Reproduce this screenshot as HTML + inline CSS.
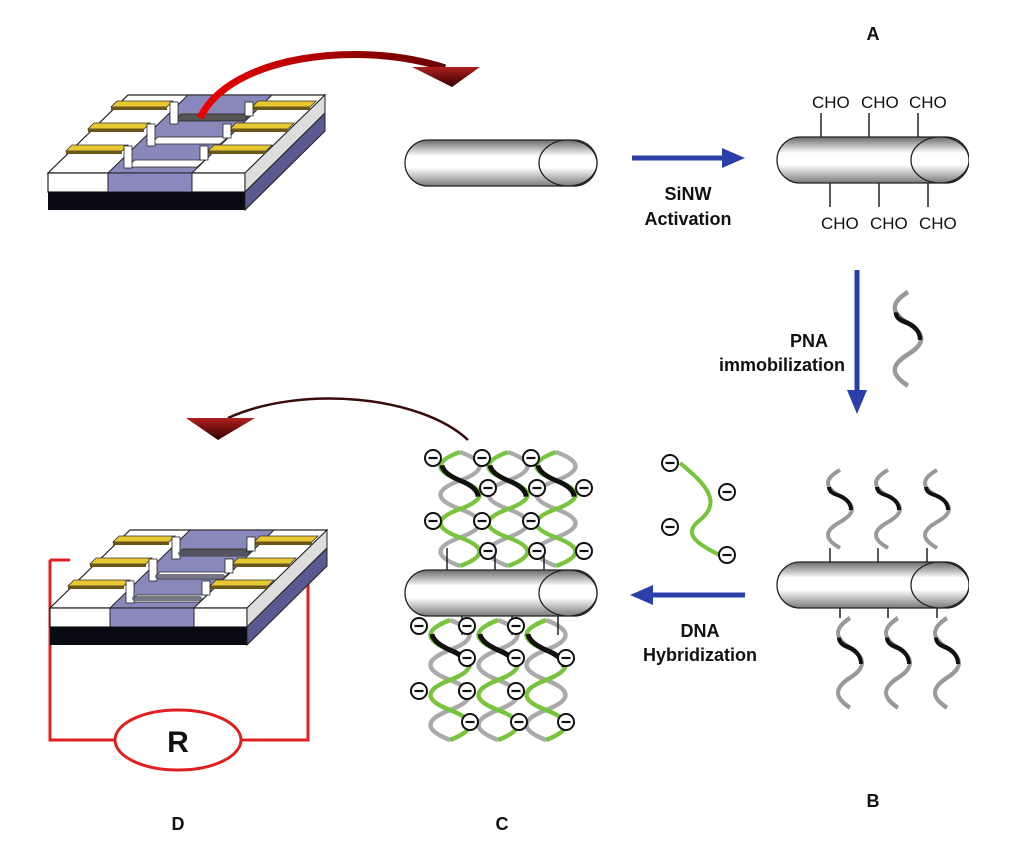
<!DOCTYPE html>
<html><head><meta charset="utf-8"><style>
html,body{margin:0;padding:0;background:#fff;width:1024px;height:841px;overflow:hidden}
svg{display:block}
text{font-family:"Liberation Sans",Arial,sans-serif}
</style></head><body>
<svg width="1024" height="841" viewBox="0 0 1024 841" xmlns="http://www.w3.org/2000/svg">
<defs>
<linearGradient id="wg" x1="0" y1="0" x2="0" y2="1">
<stop offset="0" stop-color="#6a6a6a"/><stop offset="0.35" stop-color="#fff"/><stop offset="0.6" stop-color="#fff"/><stop offset="1" stop-color="#7a7a7a"/>
</linearGradient>
<linearGradient id="redg" x1="0" y1="0" x2="1" y2="0">
<stop offset="0" stop-color="#e00"/><stop offset="1" stop-color="#600"/>
</linearGradient>
<linearGradient id="ah" x1="0" y1="0" x2="0" y2="1">
<stop offset="0" stop-color="#b02020"/><stop offset="1" stop-color="#300"/>
</linearGradient>
<g id="dev">
<polygon points="48,173 245,173 325,95 128,95" fill="#fff" stroke="#222" stroke-width="1.2"/>
<polygon points="108,173 192,173 272,95 188,95" fill="#8888bb" stroke="#222" stroke-width="1"/>
<rect x="48" y="173" width="197" height="19" fill="#fff" stroke="#222" stroke-width="1.2"/>
<rect x="108" y="173" width="84" height="19" fill="#8a8ac0" stroke="#222" stroke-width="1"/>
<rect x="48" y="192" width="197" height="18" fill="#0a0a14"/>
<polygon points="245,173 325,95 325,113 245,192" fill="#ddd" stroke="#222" stroke-width="1"/>
<polygon points="245,192 325,113 325,131 245,210" fill="#5a5a90" stroke="#222" stroke-width="1"/>
<polygon points="135,160 205,160 197,167 127,167" fill="#fff" stroke="#222" stroke-width="0.8"/>
<polygon points="158,137 228,137 220,144 150,144" fill="#fff" stroke="#222" stroke-width="0.8"/>
<polygon points="181,114 251,114 243,121 173,121" fill="#555" stroke="#222" stroke-width="0.8"/>
<polygon points="72,145 128,145 122,151 66,151" fill="#e8c830" stroke="#333" stroke-width="0.8"/>
<polygon points="66,151 122,151 122,154 66,154" fill="#6b5518"/>
<polygon points="94,123 150,123 144,129 88,129" fill="#e8c830" stroke="#333" stroke-width="0.8"/>
<polygon points="88,129 144,129 144,132 88,132" fill="#6b5518"/>
<polygon points="117,101 173,101 167,107 111,107" fill="#e8c830" stroke="#333" stroke-width="0.8"/>
<polygon points="111,107 167,107 167,110 111,110" fill="#6b5518"/>
<polygon points="214,145 272,145 266,151 208,151" fill="#e8c830" stroke="#333" stroke-width="0.8"/>
<polygon points="208,151 266,151 266,154 208,154" fill="#6b5518"/>
<polygon points="236,123 294,123 288,129 230,129" fill="#e8c830" stroke="#333" stroke-width="0.8"/>
<polygon points="230,129 288,129 288,132 230,132" fill="#6b5518"/>
<polygon points="258,101 316,101 310,107 252,107" fill="#e8c830" stroke="#333" stroke-width="0.8"/>
<polygon points="252,107 310,107 310,110 252,110" fill="#6b5518"/>
<rect x="124" y="146" width="8" height="22" fill="#fff" stroke="#222" stroke-width="0.8"/>
<rect x="147" y="124" width="8" height="22" fill="#fff" stroke="#222" stroke-width="0.8"/>
<rect x="170" y="102" width="8" height="22" fill="#fff" stroke="#222" stroke-width="0.8"/>
<rect x="200" y="146" width="8" height="14" fill="#fff" stroke="#222" stroke-width="0.8"/>
<rect x="223" y="124" width="8" height="14" fill="#fff" stroke="#222" stroke-width="0.8"/>
<rect x="245" y="102" width="8" height="14" fill="#fff" stroke="#222" stroke-width="0.8"/>
</g>
<g id="wire">
<rect x="0" y="0" width="192" height="46" rx="23" fill="url(#wg)" stroke="#222" stroke-width="1.3"/>
<ellipse cx="163" cy="23" rx="29" ry="23" fill="url(#wg)" stroke="#222" stroke-width="1.3"/>
</g>
<g id="strand">
<path d="M0,0 c-16,9 -16,17 0,26 s16,17 0,26 s-16,17 0,26" fill="none" stroke="#999" stroke-width="4"/>
<path d="M-11,17 c0,5 5,7 11,9 c7,3 11,8 11,14" fill="none" stroke="#111" stroke-width="4"/>
</g>
<g id="m"><circle r="8" fill="#fff" stroke="#111" stroke-width="2"/><line x1="-4.5" y1="0" x2="4.5" y2="0" stroke="#111" stroke-width="2.2"/></g>
<g id="helix">
<path d="M0,0 c26,10 26,20 0,30 s-26,20 0,30 s26,20 0,30 s-26,20 0,30" fill="none" stroke="#aaa" stroke-width="4.5"/>
<path d="M0,0 c-26,10 -26,20 0,30 s26,20 0,30 s-26,20 0,30 s26,20 0,30" fill="none" stroke="#78c43c" stroke-width="4.5"/>
<path d="M-18,14 c1,7 9,12 18,16 c10,4 18,10 18,17" fill="none" stroke="#111" stroke-width="5"/>
</g>
</defs>

<use href="#dev"/>
<polyline points="50,560 50,740 115,740" fill="none" stroke="#e02020" stroke-width="3"/>
<polyline points="241,740 308,740 308,560 290,560" fill="none" stroke="#e02020" stroke-width="3"/>
<line x1="50" y1="560" x2="70" y2="560" stroke="#e02020" stroke-width="3"/>
<ellipse cx="178" cy="740" rx="63" ry="30" fill="#fff" stroke="#e02020" stroke-width="3"/>
<text x="178" y="752" font-size="30" font-weight="bold" text-anchor="middle" fill="#111">R</text>
<g transform="translate(2,435)"><use href="#dev"/>
<g fill="#556" opacity="0.8">
<rect x="130" y="161" width="70" height="5" rx="2.5"/><rect x="153" y="139" width="70" height="5" rx="2.5"/><rect x="176" y="116" width="70" height="5" rx="2.5"/>
</g></g>

<path d="M200,118 C230,55 360,40 445,68" fill="none" stroke="url(#redg)" stroke-width="7"/>
<polygon points="412,67 480,67 452,87" fill="url(#ah)"/>
<path d="M468,440 C420,395 300,385 228,418" fill="none" stroke="#3a0a0a" stroke-width="2.5"/>
<polygon points="186,418 255,418 218,440" fill="url(#ah)"/>

<use href="#wire" transform="translate(405,140)"/>
<g stroke="#222" stroke-width="1.5">
<line x1="821" y1="113" x2="821" y2="137"/><line x1="869" y1="113" x2="869" y2="137"/><line x1="918" y1="113" x2="918" y2="137"/>
<line x1="830" y1="180" x2="830" y2="207"/><line x1="879" y1="180" x2="879" y2="207"/><line x1="928" y1="180" x2="928" y2="207"/>
</g>
<use href="#wire" transform="translate(777,137)"/>
<rect x="969" y="120" width="55" height="80" fill="#fff"/>
<g font-size="17" fill="#111">
<text x="812" y="108">CHO</text><text x="861" y="108">CHO</text><text x="909" y="108">CHO</text>
<text x="821" y="229">CHO</text><text x="870" y="229">CHO</text><text x="919" y="229">CHO</text>
</g>

<line x1="632" y1="158" x2="725" y2="158" stroke="#2a3fa8" stroke-width="5"/>
<polygon points="722,148 745,158 722,168" fill="#2a3fa8"/>
<line x1="857" y1="270" x2="857" y2="393" stroke="#2a3fa8" stroke-width="5"/>
<polygon points="847,390 867,390 857,414" fill="#2a3fa8"/>
<line x1="745" y1="595" x2="650" y2="595" stroke="#2a3fa8" stroke-width="5"/>
<polygon points="653,585 630,595 653,605" fill="#2a3fa8"/>

<g font-size="18" font-weight="bold" fill="#111" text-anchor="middle">
<text x="688" y="200">SiNW</text><text x="688" y="225">Activation</text>
<text x="828" y="347" text-anchor="end">PNA</text>
<text x="845" y="371" text-anchor="end">immobilization</text>
<text x="700" y="637">DNA</text><text x="700" y="661">Hybridization</text>
<text x="873" y="40">A</text><text x="873" y="807">B</text>
<text x="502" y="830">C</text><text x="178" y="830">D</text>
</g>

<use href="#strand" transform="translate(908,292) scale(1.1,1.2)"/>
<g stroke="#222" stroke-width="1.5">
<line x1="830" y1="548" x2="830" y2="562"/><line x1="878" y1="548" x2="878" y2="562"/><line x1="927" y1="548" x2="927" y2="562"/>
<line x1="840" y1="605" x2="840" y2="618"/><line x1="888" y1="605" x2="888" y2="618"/><line x1="937" y1="605" x2="937" y2="618"/>
</g>
<use href="#strand" transform="translate(840,470)"/>
<use href="#strand" transform="translate(888,470)"/>
<use href="#strand" transform="translate(937,470)"/>
<use href="#strand" transform="translate(850,618) scale(1,1.15)"/>
<use href="#strand" transform="translate(898,618) scale(1,1.15)"/>
<use href="#strand" transform="translate(947,618) scale(1,1.15)"/>
<use href="#wire" transform="translate(777,562)"/>
<rect x="969" y="550" width="55" height="70" fill="#fff"/>

<path d="M680,463 C700,480 725,500 700,520 C680,535 700,545 725,558" fill="none" stroke="#75c43a" stroke-width="4"/>
<use href="#m" transform="translate(670,463)"/><use href="#m" transform="translate(727,492)"/>
<use href="#m" transform="translate(670,527)"/><use href="#m" transform="translate(727,555)"/>

<use href="#helix" transform="translate(460,452) scale(1,0.95)"/>
<use href="#helix" transform="translate(508,452) scale(1,0.95)"/>
<use href="#helix" transform="translate(556,452) scale(1,0.95)"/>
<use href="#helix" transform="translate(450,620)"/>
<use href="#helix" transform="translate(498,620)"/>
<use href="#helix" transform="translate(546,620)"/>
<g stroke="#222" stroke-width="1.5">
<line x1="447" y1="548" x2="447" y2="570"/><line x1="495" y1="548" x2="495" y2="570"/><line x1="544" y1="548" x2="544" y2="570"/>
<line x1="462" y1="616" x2="462" y2="635"/><line x1="512" y1="616" x2="512" y2="635"/><line x1="558" y1="616" x2="558" y2="635"/>
</g>
<use href="#wire" transform="translate(405,570)"/>
<g>
<use href="#m" transform="translate(433,458)"/><use href="#m" transform="translate(482,458)"/><use href="#m" transform="translate(531,458)"/>
<use href="#m" transform="translate(488,488)"/><use href="#m" transform="translate(537,488)"/><use href="#m" transform="translate(584,488)"/>
<use href="#m" transform="translate(433,521)"/><use href="#m" transform="translate(482,521)"/><use href="#m" transform="translate(531,521)"/>
<use href="#m" transform="translate(488,551)"/><use href="#m" transform="translate(537,551)"/><use href="#m" transform="translate(584,551)"/>
<use href="#m" transform="translate(419,626)"/><use href="#m" transform="translate(467,626)"/><use href="#m" transform="translate(516,626)"/>
<use href="#m" transform="translate(467,658)"/><use href="#m" transform="translate(516,658)"/><use href="#m" transform="translate(566,658)"/>
<use href="#m" transform="translate(419,691)"/><use href="#m" transform="translate(467,691)"/><use href="#m" transform="translate(516,691)"/>
<use href="#m" transform="translate(470,722)"/><use href="#m" transform="translate(519,722)"/><use href="#m" transform="translate(566,722)"/>
</g>
</svg>
</body></html>
